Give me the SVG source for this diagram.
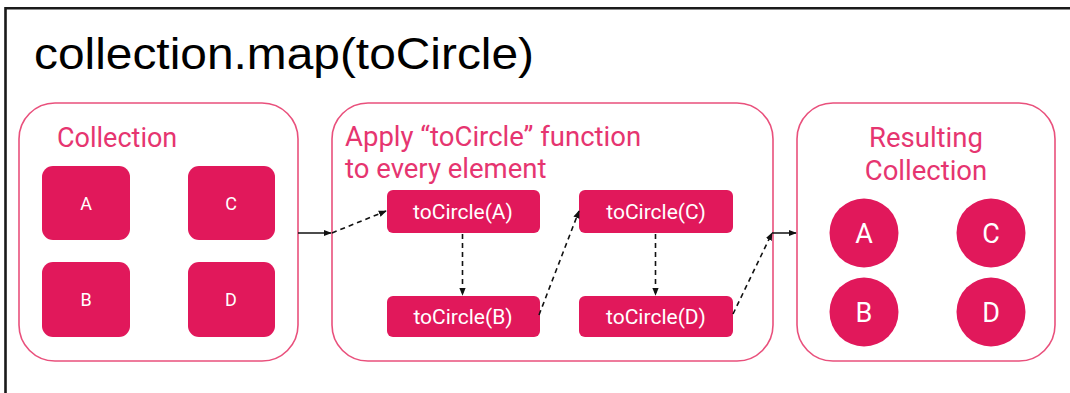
<svg xmlns="http://www.w3.org/2000/svg" width="1070" height="393" viewBox="0 0 1070 393">
<style>
.group{fill:#fff;stroke:#E9507C;stroke-width:1.6}
.node{fill:#E1185B}
.lbl{font-family:Roboto,"Liberation Sans",sans-serif;fill:#E63570}
.w{font-family:Roboto,"Liberation Sans",sans-serif;fill:#fff;text-anchor:middle}
.solid{stroke:#111;stroke-width:1.5;fill:none}
.dash{stroke:#111;stroke-width:1.6;fill:none;stroke-dasharray:5 4}
</style>
<defs>
<marker id="ah" viewBox="0 0 10 10" refX="9" refY="5" markerWidth="8" markerHeight="8" markerUnits="userSpaceOnUse" orient="auto">
<path d="M0,1 L10,5 L0,9 z" fill="#111"/>
</marker>
</defs>
<rect width="1070" height="393" fill="#fff"/>
<path d="M5.5,393 V8.3 H1070" fill="none" stroke="#1a1a1a" stroke-width="2.6"/>
<text x="34" y="69" font-family="'Liberation Sans',Arial,sans-serif" font-size="45" fill="#000" textLength="500" lengthAdjust="spacingAndGlyphs">collection.map(toCircle)</text>

<g id="collection">
<rect class="group" x="19" y="103" width="279" height="258" rx="36"/>
<text class="lbl" x="57" y="147" font-size="27">Collection</text>
</g>
<g id="sq-A"><rect class="node" x="42" y="166" width="88" height="74" rx="11"/><text class="w" x="86" y="210" font-size="18">A</text></g>
<g id="sq-C"><rect class="node" x="188" y="166" width="87" height="74" rx="11"/><text class="w" x="231" y="210" font-size="18">C</text></g>
<g id="sq-B"><rect class="node" x="42" y="262" width="88" height="75" rx="11"/><text class="w" x="86" y="306" font-size="18">B</text></g>
<g id="sq-D"><rect class="node" x="188" y="262" width="87" height="75" rx="11"/><text class="w" x="231" y="306" font-size="18">D</text></g>

<g id="apply">
<rect class="group" x="332" y="103" width="441" height="258" rx="36"/>
<text class="lbl" x="345" y="146" font-size="27.5">Apply “toCircle” function</text>
<text class="lbl" x="345" y="178" font-size="27.5">to every element</text>
</g>
<g id="tc-A"><rect class="node" x="387" y="190" width="153" height="43" rx="6"/><text class="w" x="463" y="219" font-size="21">toCircle(A)</text></g>
<g id="tc-B"><rect class="node" x="387" y="296" width="153" height="41" rx="6"/><text class="w" x="463" y="324" font-size="21">toCircle(B)</text></g>
<g id="tc-C"><rect class="node" x="579" y="190" width="154" height="43" rx="6"/><text class="w" x="656" y="219" font-size="21">toCircle(C)</text></g>
<g id="tc-D"><rect class="node" x="579" y="296" width="154" height="41" rx="6"/><text class="w" x="656" y="324" font-size="21">toCircle(D)</text></g>

<g id="result">
<rect class="group" x="797" y="103" width="258" height="258" rx="36"/>
<text class="lbl" x="926" y="147" font-size="27.5" text-anchor="middle">Resulting</text>
<text class="lbl" x="926" y="180" font-size="27.5" text-anchor="middle">Collection</text>
</g>
<g id="ci-A"><circle class="node" cx="864" cy="233" r="34.5"/><text class="w" x="864" y="243" font-size="27">A</text></g>
<g id="ci-C"><circle class="node" cx="991" cy="233" r="34.5"/><text class="w" x="991" y="243" font-size="27">C</text></g>
<g id="ci-B"><circle class="node" cx="864" cy="312" r="34.5"/><text class="w" x="864" y="322" font-size="27">B</text></g>
<g id="ci-D"><circle class="node" cx="991" cy="312" r="34.5"/><text class="w" x="991" y="322" font-size="27">D</text></g>

<g id="connectors">
<path class="solid" d="M298,233 H331" marker-end="url(#ah)"/>
<path class="dash" d="M332,233 L386,211" marker-end="url(#ah)"/>
<path class="dash" d="M462.5,234 V295" marker-end="url(#ah)"/>
<path class="dash" d="M539,315 L579,211" marker-end="url(#ah)"/>
<path class="dash" d="M655.5,234 V295" marker-end="url(#ah)"/>
<path class="dash" d="M733,314 L772,233" marker-end="url(#ah)"/>
<path class="solid" d="M772,233 H796" marker-end="url(#ah)"/>
</g>
</svg>
